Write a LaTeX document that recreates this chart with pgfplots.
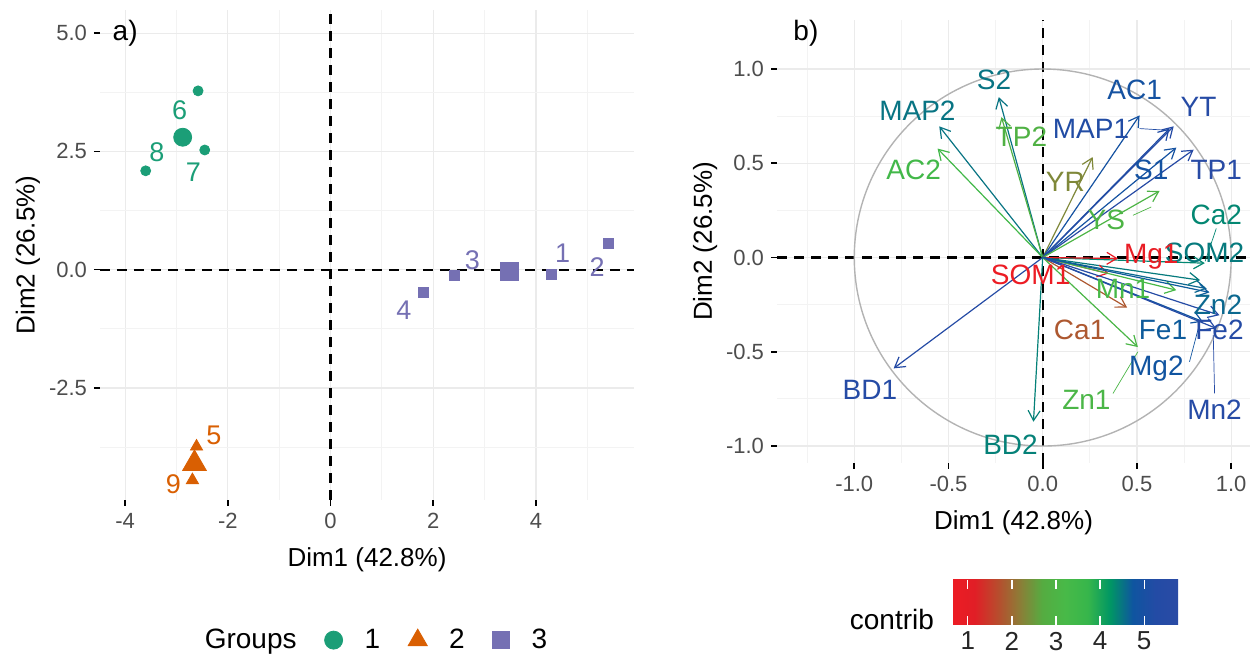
\documentclass[border=0pt]{standalone}
\usepackage{pgfplots}
\pgfplotsset{compat=1.18}
\usepackage{pgfplotstable}
\usepackage{fontspec}
\setmainfont{Liberation Sans}
\usetikzlibrary{arrows.meta}

\definecolor{gA}{HTML}{1B9E77}
\definecolor{gB}{HTML}{D95F02}
\definecolor{gC}{HTML}{7570B3}
\definecolor{tickgray}{HTML}{4D4D4D}
\definecolor{gridmaj}{HTML}{EBEBEB}
\definecolor{gridmin}{HTML}{F3F3F3}
\definecolor{circgray}{HTML}{B3B3B3}

\newcommand\fs[1]{\fontsize{#1}{#1}\selectfont}

% variables: arrow tip (u,v), contrib c, label position (lx,ly)
\pgfplotstableread{
lab  x0 y0 u      v      c    lx     ly
S2   0  0  -0.233  0.851 4.5  -0.258  0.940
MAP2 0  0  -0.549  0.696 4.5  -0.665  0.781
AC2  0  0  -0.558  0.578 3.4  -0.685  0.463
TP2  0  0  -0.219  0.745 2.9  -0.113  0.639
YR   0  0   0.265  0.533 2.3   0.120  0.401
AC1  0  0   0.514  0.754 4.9   0.488  0.887
YT   0  0   0.695  0.696 5.5   0.827  0.798
MAP1 0  0   0.673  0.684 5.2   0.256  0.684
S1   0  0   0.709  0.583 4.9   0.576  0.463
TP1  0  0   0.801  0.572 5.6   0.921  0.463
YS   0  0   0.620  0.353 3.0   0.338  0.198
Ca2  0  0   0.860 -0.030 4.35  0.921  0.224
SOM2 0  0   0.835 -0.120 4.45  0.859  0.023
Mg1  0  0   0.399 -0.005 0.8   0.576  0.003
SOM1 0  0   0.350 -0.085 0.7  -0.064 -0.094
Mn1  0  0   0.709 -0.173 3.2   0.426 -0.164
Zn2  0  0   0.870 -0.165 4.6   0.930 -0.253
Ca1  0  0   0.448 -0.266 1.8   0.196 -0.385
Fe1  0  0   0.885 -0.185 4.7   0.638 -0.385
Fe2  0  0   0.938 -0.306 5.4   0.938 -0.385
Mg2  0  0   0.850 -0.340 4.8   0.603 -0.588
Zn1  0  0   0.505 -0.475 3.1   0.232 -0.756
Mn2  0  0   0.921 -0.376 5.5   0.912 -0.809
BD1  0  0  -0.791 -0.588 5.4  -0.917 -0.703
BD2  0  0  -0.049 -0.871 4.4  -0.171 -0.995
}\vars

% repel segments from label to arrow tip
\pgfplotstableread{
x0     y0     u      v      c
0.921  0.154 -0.059 -0.174 4.35
0.779 -0.553  0.051  0.193 4.8
0.373 -0.721  0.132  0.221 3.1
0.912 -0.721 -0.007  0.311 5.5
0.514  0.684  0.146 -0.009 5.2
0.479  0.224  0.097  0.044 3.0
}\segs

\pgfplotsset{
  pca/.style={
    scale only axis, clip=false,
    axis line style={draw=none},
    tick pos=left, tick align=outside,
    major tick length=3pt, minor tick length=0pt,
    major tick style={black, line width=0.8pt},
    grid=both,
    major grid style={gridmaj, line width=0.6pt},
    minor grid style={gridmin, line width=0.4pt},
    ticklabel style={font=\fs{11}, text=tickgray},
    label style={font=\fs{13}},
  },
  zeroline/.style={black, line width=1.1pt, dash pattern=on 5pt off 3.5pt, forget plot},
}

\begin{document}
\begin{tikzpicture}
\useasboundingbox (0,0) rectangle (626.5pt,328.5pt);

% ---------- a) individuals ----------
\begin{axis}[pca,
  at={(50pt,78.5pt)}, anchor=south west,
  width=267pt, height=245pt,
  xmin=-4.49, xmax=5.91, ymin=-4.87, ymax=5.49,
  xtick={-4,-2,0,2,4}, xticklabels={-4,-2,0,2,4},
  ytick={-2.5,0,2.5,5}, yticklabels={-2.5,0.0,2.5,5.0},
  minor xtick={-3,-1,1,3,5}, minor ytick={-3.75,-1.25,1.25,3.75},
  xlabel={Dim1 (42.8\%)}, ylabel={Dim2 (26.5\%)},
  xlabel style={at={(axis description cs:0.5,-0.122)}, anchor=center},
  ylabel style={at={(axis description cs:-0.135,0.5)}, anchor=center},
  legend columns=-1,
  legend style={at={(0.5,-0.286)}, anchor=center, draw=none, fill=none,
    font=\fs{14},
    /tikz/every odd column/.append style={column sep=9pt},
    /tikz/every even column/.append style={column sep=12pt}},
]
\addlegendimage{empty legend}\addlegendentry{Groups}
\addplot[zeroline] coordinates {(0,-4.87) (0,5.49)};
\addplot[zeroline] coordinates {(-4.49,0) (5.91,0)};

\addplot[only marks, mark=*, mark size=2.5pt, color=gA,
  legend image post style={mark size=4.5pt}]
  coordinates {(-2.58,3.78) (-2.45,2.53) (-3.60,2.09)};
\addlegendentry{1}
\addplot[only marks, mark=triangle*, mark size=3.5pt, color=gB,
  legend image post style={mark size=5.5pt}]
  coordinates {(-2.61,-3.74) (-2.69,-4.45)};
\addlegendentry{2}
\addplot[only marks, mark=square*, mark size=2.5pt, color=gC,
  legend image post style={mark size=4.2pt}]
  coordinates {(4.31,-0.10) (5.41,0.55) (2.41,-0.12) (1.81,-0.49)};
\addlegendentry{3}

% group means
\addplot[only marks, mark=*, mark size=4.5pt, color=gA, forget plot]
  coordinates {(-2.88,2.80)};
\addplot[only marks, mark=triangle*, mark size=6.8pt, color=gB, forget plot]
  coordinates {(-2.65,-4.10)};
\addplot[only marks, mark=square*, mark size=4.5pt, color=gC, forget plot]
  coordinates {(3.48,-0.04)};

% point labels
\addplot[only marks, mark=none, forget plot, point meta=explicit symbolic,
  nodes near coords, nodes near coords align={anchor=center},
  every node near coord/.append style={text=gA, font=\fs{13.5}, inner sep=0pt}]
  coordinates {(-2.94,3.38)[6] (-2.67,2.05)[7] (-3.38,2.49)[8]};
\addplot[only marks, mark=none, forget plot, point meta=explicit symbolic,
  nodes near coords, nodes near coords align={anchor=center},
  every node near coord/.append style={text=gB, font=\fs{13.5}, inner sep=0pt}]
  coordinates {(-2.27,-3.50)[5] (-3.06,-4.53)[9]};
\addplot[only marks, mark=none, forget plot, point meta=explicit symbolic,
  nodes near coords, nodes near coords align={anchor=center},
  every node near coord/.append style={text=gC, font=\fs{13.5}, inner sep=0pt}]
  coordinates {(4.52,0.34)[1] (5.19,0.06)[2] (2.76,0.20)[3] (1.43,-0.86)[4]};

\node[font=\fs{14}, anchor=west] at (axis cs:-4.38,5.0) {a)};
\end{axis}

% ---------- b) variables ----------
\begin{axis}[pca,
  at={(388.5pt,97pt)}, anchor=south west,
  width=236.5pt, height=221.5pt,
  xmin=-1.41, xmax=1.10, ymin=-1.09, ymax=1.26,
  xtick={-1,-0.5,0,0.5,1}, xticklabels={-1.0,-0.5,0.0,0.5,1.0},
  ytick={-1,-0.5,0,0.5,1}, yticklabels={-1.0,-0.5,0.0,0.5,1.0},
  minor xtick={-1.25,-0.75,-0.25,0.25,0.75},
  minor ytick={-0.75,-0.25,0.25,0.75},
  xlabel={Dim1 (42.8\%)}, ylabel={Dim2 (26.5\%)},
  xlabel style={at={(axis description cs:0.5,-0.135)}, anchor=center},
  ylabel style={at={(axis description cs:-0.152,0.5)}, anchor=center},
  colormap={contrib}{
    rgb255(0cm)=(237,28,36) rgb255(1cm)=(225,30,38) rgb255(2cm)=(185,75,45)
    rgb255(3cm)=(140,125,55) rgb255(4cm)=(85,172,65) rgb255(5cm)=(72,185,72)
    rgb255(6cm)=(55,182,75) rgb255(7cm)=(0,150,100) rgb255(8cm)=(15,85,160)
    rgb255(9cm)=(35,75,165) rgb255(10cm)=(42,75,165)},
  point meta min=0.64, point meta max=5.77,
  colorbar horizontal,
  colorbar/width=22.5pt,
  colorbar style={at={(0.370,-0.264)}, anchor=north west,
    scale only axis, width=113pt,
    xtick={1,2,3,4,5}, xticklabels={1,2,3,4,5},
    xticklabel style={font=\fs{13}, text=black!85},
    axis line style={draw=none},
    xtick pos=both, xticklabel pos=lower, tick align=inside,
    major tick length=4.5pt, major tick style={white, line width=0.6pt}},
]
\addplot[zeroline] coordinates {(0,-1.09) (0,1.26)};
\addplot[zeroline] coordinates {(-1.41,0) (1.10,0)};
\draw[circgray, line width=0.7pt] (axis cs:0,0) circle [radius=1];

\addplot[quiver={u=\thisrow{u}, v=\thisrow{v}, colored=mapped color,
    every arrow/.append style={-{Straight Barb[length=5pt,width=6pt]},
      line width=0.6pt}},
  point meta=\thisrow{c}] table[x=x0, y=y0] {\vars};

\addplot[quiver={u=\thisrow{u}, v=\thisrow{v}, colored=mapped color,
    every arrow/.append style={line width=0.35pt}},
  point meta=\thisrow{c}] table[x=x0, y=y0] {\segs};

\addplot[only marks, mark=none, point meta=explicit symbolic,
  visualization depends on={(\thisrow{c}-0.64)/5.13*1000 \as \vcm},
  nodes near coords, nodes near coords align={anchor=center},
  every node near coord/.append style={/pgfplots/color of colormap={\vcm},
    font=\fs{14}, inner sep=0pt}]
  table[x=lx, y=ly, meta=lab] {\vars};

\node[font=\fs{14}, anchor=west] at (axis cs:-1.36,1.19) {b)};
\node[font=\fs{14}] at (rel axis cs:0.243,-0.354) {contrib};
\end{axis}
\end{tikzpicture}
\end{document}
